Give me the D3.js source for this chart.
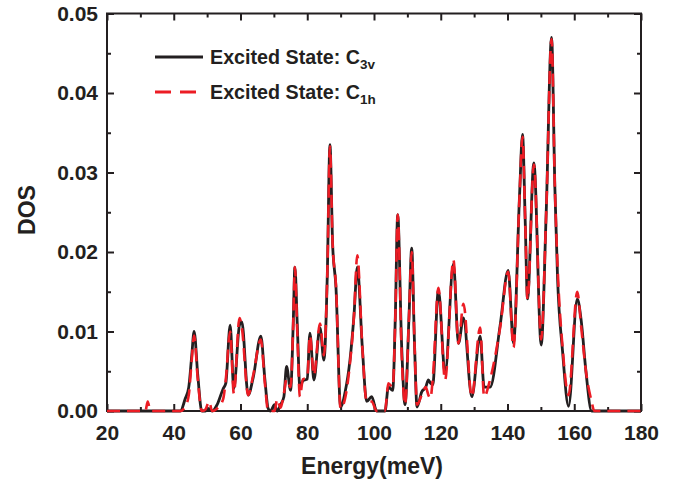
<!DOCTYPE html>
<html>
<head>
<meta charset="utf-8">
<script src="https://cdn.jsdelivr.net/npm/d3@7"></script>
<style>
  body { margin: 0; background: #fff; }
  text { font-family: "Liberation Sans", Arial, Helvetica, sans-serif; font-weight: bold; fill: #231f20; }
</style>
</head>
<body>
<div id="vis"></div>
<script>
// energy grid (meV) and DOS
var energy = [20, 30, 31.5, 32.2, 33, 40, 42, 43.4, 44.5, 45.4, 46.1, 47.2, 48.4, 49.5, 50.6, 51.5,
  53, 54.8, 55.6, 56.9, 58, 59.7, 60.4, 62.3, 63.8, 66.1, 67.3, 68.3, 69, 70.2, 71, 72, 73, 73.8,
  75, 75.8, 76.3, 77, 77.8, 78.7, 80, 80.8, 82, 83.8, 85, 86, 86.8, 87.6, 88.6, 90, 91.3, 92.8,
  94, 95, 96.5, 97.8, 99.3, 100.8, 103.3, 104.3, 105.6, 106.4, 107.1, 108.3, 109.3, 110.5, 111.3,
  112.1, 112.9, 114.3, 115.5, 116.3, 116.9, 117.6, 119.3, 121.3, 123.8, 125.3, 126.8, 129.3,
  131.8, 133, 134.8, 137.8, 140.2, 141.8, 143.6, 144.5, 145.3, 146, 147.9, 150.1, 151.6, 153.2,
  154.2, 155, 156.5, 158.3, 160.9, 162.1, 163.5, 165.2, 166, 180];

var dosC3v = [0, 0, 0, 0, 0, 0, 0, 0.0015, 0.003, 0.007, 0.0100, 0.0045, 0, 0, 0.0003, 0,
  0.0008, 0.0028, 0.0035, 0.0108, 0.0028, 0.0108, 0.0112, 0.002, 0.0042, 0.0094, 0.004, 0.0003, 0, 0.0008, 0, 0.0008, 0.0018, 0.0056,
  0.0026, 0.011, 0.0181, 0.011, 0.003, 0.0038, 0.004, 0.0098, 0.0039, 0.0105, 0.0064, 0.017, 0.0335, 0.021, 0.0156, 0.0005, 0.0023, 0.0064,
  0.012, 0.0181, 0.008, 0.0012, 0.0018, 0, 0, 0.003, 0.0026, 0.012, 0.0247, 0.008, 0.0008, 0.012, 0.0205,
  0.009, 0.0005, 0.0024, 0.003, 0.0039, 0.0035, 0.0033, 0.0152, 0.0047, 0.0185, 0.0085, 0.0117, 0.0018,
  0.0094, 0.003, 0.003, 0.0108, 0.0177, 0.0085, 0.027, 0.0348, 0.024, 0.0141, 0.0312, 0.0083, 0.025, 0.047,
  0.028, 0.0167, 0.0075, 0.0006, 0.0141, 0.0113, 0.005, 0, 0, 0];

var dosC1h = [0, 0, 0, 0.0012, 0, 0, 0, 0.0005, 0.002, 0.0065, 0.0095, 0.004, 0, 0.0002, 0.0012, 0,
  0.0003, 0.0015, 0.004, 0.0100, 0.0022, 0.0117, 0.0105, 0.002, 0.0045, 0.009, 0.0035, 0, 0, 0, 0.0015, 0.0004, 0.0022, 0.004,
  0.003, 0.011, 0.0181, 0.01, 0.0018, 0.004, 0.0042, 0.0095, 0.0045, 0.011, 0.007, 0.017, 0.0333, 0.021, 0.0158, 0.0003, 0.0015, 0.006,
  0.012, 0.0196, 0.008, 0.0012, 0.0012, 0, 0, 0.0035, 0.003, 0.012, 0.0247, 0.007, 0.0008, 0.012, 0.02,
  0.009, 0.0008, 0.002, 0.003, 0.002, 0.0016, 0.004, 0.0155, 0.0039, 0.019, 0.0085, 0.0135, 0.0018,
  0.0105, 0.0018, 0.004, 0.0105, 0.0175, 0.008, 0.027, 0.0345, 0.024, 0.014, 0.031, 0.009, 0.025, 0.0468,
  0.028, 0.0182, 0.008, 0.002, 0.015, 0.0105, 0.005, 0.0012, 0, 0];

var xMajor = [20, 40, 60, 80, 100, 120, 140, 160, 180];
var xMinor = [30, 50, 70, 90, 110, 130, 150, 170];
var yMajor = [0, 0.01, 0.02, 0.03, 0.04, 0.05];
var yMinor = [0.005, 0.015, 0.025, 0.035, 0.045];

function dosChart() {
  var width = 691, height = 483;
  var pLeft = 107, pRight = 641, pTop = 13.5, pBottom = 411;
  var black = "#231f20", red = "#ec1c24";

  var svg = d3.select("#vis").append("svg")
    .attr("width", width)
    .attr("height", height);

  var x = d3.scaleLinear().domain([20, 180]).range([pLeft, pRight]);
  var y = d3.scaleLinear().domain([0, 0.05]).range([pBottom, pTop]);

  function styleAxis(g) {
    g.select(".domain").remove();
    g.selectAll("line").attr("stroke", black).attr("stroke-width", 2);
    g.selectAll("text").style("font-size", "21px").attr("fill", black);
  }

  // bottom / top
  svg.append("g").attr("transform", "translate(0," + pBottom + ")")
    .call(d3.axisBottom(x).tickValues(xMajor).tickSize(-7).tickPadding(14).tickFormat(d3.format("d")))
    .call(styleAxis);
  svg.append("g").attr("transform", "translate(0," + pBottom + ")")
    .call(d3.axisBottom(x).tickValues(xMinor).tickSize(-4).tickFormat(""))
    .call(styleAxis);
  svg.append("g").attr("transform", "translate(0," + pTop + ")")
    .call(d3.axisTop(x).tickValues(xMajor).tickSize(-7).tickFormat(""))
    .call(styleAxis);
  svg.append("g").attr("transform", "translate(0," + pTop + ")")
    .call(d3.axisTop(x).tickValues(xMinor).tickSize(-4).tickFormat(""))
    .call(styleAxis);

  // left / right
  svg.append("g").attr("transform", "translate(" + pLeft + ",0)")
    .call(d3.axisLeft(y).tickValues(yMajor).tickSize(-7).tickPadding(9).tickFormat(d3.format(".2f")))
    .call(styleAxis);
  svg.append("g").attr("transform", "translate(" + pLeft + ",0)")
    .call(d3.axisLeft(y).tickValues(yMinor).tickSize(-4).tickFormat(""))
    .call(styleAxis);
  svg.append("g").attr("transform", "translate(" + pRight + ",0)")
    .call(d3.axisRight(y).tickValues(yMajor).tickSize(-7).tickFormat(""))
    .call(styleAxis);
  svg.append("g").attr("transform", "translate(" + pRight + ",0)")
    .call(d3.axisRight(y).tickValues(yMinor).tickSize(-4).tickFormat(""))
    .call(styleAxis);

  svg.append("rect")
    .attr("x", pLeft).attr("y", pTop)
    .attr("width", pRight - pLeft).attr("height", pBottom - pTop)
    .attr("fill", "none").attr("stroke", black).attr("stroke-width", 2);

  var line = d3.line()
    .x(function(d) { return x(d[0]); })
    .y(function(d) { return y(d[1]); })
    .curve(d3.curveMonotoneX);

  var c3v = energy.map(function(e, i) { return [e, dosC3v[i]]; });
  var c1h = energy.map(function(e, i) { return [e, dosC1h[i]]; });

  svg.append("path").datum(c3v)
    .attr("d", line)
    .attr("fill", "none")
    .attr("stroke", black)
    .attr("stroke-width", 2.8)
    .attr("stroke-linejoin", "round");

  svg.append("path").datum(c1h)
    .attr("d", line)
    .attr("fill", "none")
    .attr("stroke", red)
    .attr("stroke-width", 2.6)
    .attr("stroke-dasharray", "13,7");

  // axis titles
  svg.append("text")
    .attr("x", 372).attr("y", 474)
    .attr("text-anchor", "middle")
    .style("font-size", "23px")
    .text("Energy(meV)");

  svg.append("text")
    .attr("transform", "translate(35,210) rotate(-90)")
    .attr("text-anchor", "middle")
    .style("font-size", "23px")
    .text("DOS");

  // legend
  var legend = [
    { sub: "3v", color: black, dash: null, y: 57 },
    { sub: "1h", color: red, dash: "16,9", y: 92 }
  ];

  legend.forEach(function(d) {
    svg.append("line")
      .attr("x1", 155).attr("x2", 203)
      .attr("y1", d.y).attr("y2", d.y)
      .attr("stroke", d.color)
      .attr("stroke-width", 2.8)
      .attr("stroke-dasharray", d.dash);
    var t = svg.append("text")
      .attr("x", 210).attr("y", d.y + 7)
      .style("font-size", "19.7px");
    t.append("tspan").text("Excited State: C");
    t.append("tspan").attr("dy", 5).style("font-size", "13.5px").text(d.sub);
  });
}

dosChart();
</script>
</body>
</html>
